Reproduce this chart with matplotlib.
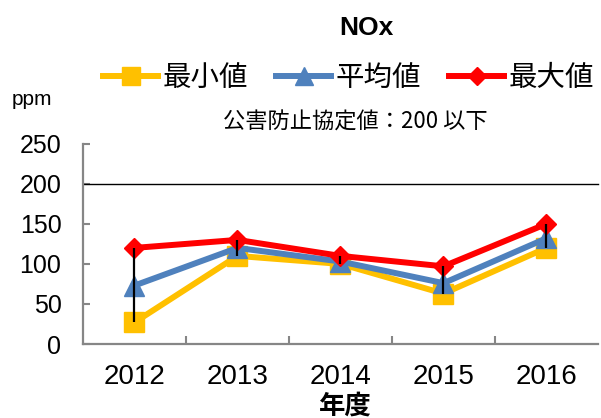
import matplotlib
matplotlib.use("Agg")
import matplotlib.pyplot as plt
from matplotlib.lines import Line2D
from matplotlib import font_manager

plt.rcParams['font.family'] = ['Noto Sans CJK JP', 'DejaVu Sans']

names = {f.name for f in font_manager.fontManager.ttflist}
narrow = 'Liberation Sans Narrow' if 'Liberation Sans Narrow' in names else 'Liberation Sans'

years = ["2012", "2013", "2014", "2015", "2016"]
min_vals = [27, 110, 100, 63, 120]
avg_vals = [73, 120, 103, 76, 132]
max_vals = [120, 130, 110, 97, 150]
limit_value = 200
series_names = ["最小値", "平均値", "最大値"]
yticks = [0, 50, 100, 150, 200, 250]

fig = plt.figure(figsize=(6.01, 4.18), dpi=100)
ax = fig.add_axes([0.138, 0.177, 0.857, 0.479])

x = list(range(len(years)))
ax.plot(x, min_vals, color='#FFC000', lw=4.3, marker='s', ms=14.5, zorder=3)
ax.plot(x, avg_vals, color='#4F81BD', lw=4.3, marker='^', ms=14, zorder=4)
ax.plot(x, max_vals, color='#FF0000', lw=4.3, marker='D', ms=10, zorder=5)
ax.vlines(x, min_vals, max_vals, color='black', lw=1.6, zorder=6)

ax.axhline(limit_value, color='black', lw=1.0, zorder=2, clip_on=False)

ax.set_xlim(-0.5, len(years) - 0.5)
ax.set_ylim(0, 250)
ax.set_yticks(yticks)
ax.set_xticks(x)
ax.set_xticklabels(years, family=narrow, fontsize=20)
ax.set_yticklabels([str(v) for v in yticks], family='Liberation Sans', fontsize=18)
ax.set_xticks([i + 0.5 for i in range(len(years) - 1)], minor=True)

for s in ['top', 'right']:
    ax.spines[s].set_visible(False)
for s in ['left', 'bottom']:
    ax.spines[s].set_color('#868686')
    ax.spines[s].set_linewidth(1.6)

ax.tick_params(axis='y', direction='in', length=5, width=1.5, color='#868686', pad=15.5)
ax.tick_params(axis='x', which='major', length=0, pad=14.5)
ax.tick_params(axis='x', which='minor', direction='in', length=6, width=1.5, color='#868686')

fig.text(0.609, 0.933, "NOx", ha='center', va='center', fontsize=19, fontweight='bold', family=narrow)
fig.text(0.02, 0.763, "ppm", ha='left', va='center', fontsize=15, family='Liberation Sans')
fig.text(0.592, 0.708, "公害防止協定値：200 以下", ha='center', va='center', fontsize=16)
fig.text(0.574, 0.062, "年度", ha='center', va='top', fontsize=19, fontweight='bold')

handles = [
    Line2D([], [], color='#FFC000', lw=4.3, marker='s', ms=12.5),
    Line2D([], [], color='#4F81BD', lw=4.3, marker='^', ms=12.5),
    Line2D([], [], color='#FF0000', lw=4.3, marker='D', ms=9.5),
]
fig.legend(handles, series_names, loc='center', bbox_to_anchor=(0.58, 0.813), ncol=3,
           frameon=False, fontsize=20.5, handlelength=1.93, handletextpad=0.15,
           columnspacing=1.0, borderpad=0, borderaxespad=0)

fig.savefig("out.png", dpi=100)
